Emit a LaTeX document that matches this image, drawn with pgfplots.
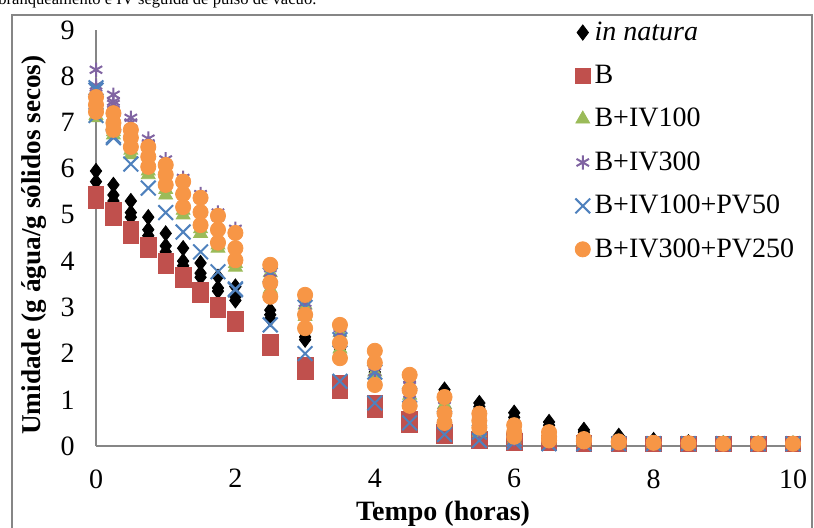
\documentclass[border=0pt]{standalone}
\usepackage{fontspec}
\setmainfont{Liberation Serif}
\usepackage{pgfplots}
\pgfplotsset{compat=1.18}
\definecolor{cB}{RGB}{192,80,77}
\definecolor{cG}{RGB}{155,187,89}
\definecolor{cP}{RGB}{128,100,162}
\definecolor{cX}{RGB}{79,129,189}
\definecolor{cO}{RGB}{247,150,70}
\definecolor{axgray}{RGB}{134,134,134}
\begin{document}
\begin{tikzpicture}
\useasboundingbox (0pt,0pt) rectangle (407pt,-263.5pt);
\node[anchor=base west, inner sep=0pt, font=\fontsize{8.3}{10}\selectfont] at (-1pt,-2pt) {branqueamento e IV seguida de pulso de vácuo.};
\draw[axgray, line width=0.6pt] (6pt,-275pt) -- (6pt,-7.5pt) -- (406pt,-7.5pt) -- (406pt,-275pt);
\begin{axis}[
  at={(48pt,-223pt)}, anchor=south west, scale only axis,
  width=348.5pt, height=208pt,
  xmin=0, xmax=10, ymin=0, ymax=9,
  axis x line*=bottom, axis y line*=left,
  axis line style={axgray, line width=0.8pt, -},
  xtick={0,2,...,10}, ytick={0,1,...,9},
  major tick length=0pt,
  /pgf/number format/assume math mode=true,
  tick label style={font=\fontsize{14}{16}\selectfont, inner sep=0pt},
  yticklabel style={anchor=east, xshift=-10.5pt},
  xticklabel style={anchor=north, yshift=-11.5pt},
  clip=false,
  legend cell align=left,
  legend image code/.code={\draw[mark repeat=2,mark phase=2,#1] plot coordinates {(0pt,0pt)(4pt,0pt)(8pt,0pt)};},
  legend style={at={(axis cs:6.78,9.36)}, anchor=north west, draw=none, fill=none,
    font=\fontsize{14}{16}\selectfont, row sep=6.9pt},
]
\addplot[only marks, mark=diamond*, mark size=3.8pt, black] table {
t u
0 5.95
0 5.72
0 5.55
0.25 5.65
0.25 5.43
0.25 5.3
0.5 5.3
0.5 5.05
0.5 4.95
0.75 4.95
0.75 4.68
0.75 4.55
1 4.6
1 4.33
1 4.2
1.25 4.28
1.25 4.0
1.25 3.9
1.5 3.96
1.5 3.74
1.5 3.65
1.75 3.66
1.75 3.42
1.75 3.35
2 3.45
2 3.23
2 3.15
2.5 2.94
2.5 2.84
2.5 2.75
3 2.45
3 2.36
3 2.3
3.5 2.1
3.5 2.05
3.5 2.0
4 1.75
4 1.7
4 1.6
4.5 1.5
4.5 1.45
4.5 1.4
5 1.22
5 1.15
5 1.1
5.5 0.93
5.5 0.85
5.5 0.8
6 0.72
6 0.62
6 0.55
6.5 0.52
6.5 0.45
6.5 0.38
7 0.35
7 0.3
7 0.25
7.5 0.22
7.5 0.18
8 0.13
8 0.1
8.5 0.08
8.5 0.07
9 0.06
9.5 0.05
10 0.05
};
\addlegendentry{\textit{in natura}}
\addplot[only marks, mark=square*, mark size=3.9pt, cB] table {
t u
0 5.45
0 5.38
0 5.3
0.25 5.1
0.25 5.02
0.25 4.95
0.5 4.7
0.5 4.63
0.5 4.55
0.75 4.35
0.75 4.3
0.75 4.25
1 4.0
1 3.96
1 3.9
1.25 3.7
1.25 3.66
1.25 3.6
1.5 3.38
1.5 3.33
1.5 3.28
1.75 3.05
1.75 3.0
1.75 2.95
2 2.75
2 2.7
2 2.65
2.5 2.25
2.5 2.2
2.5 2.12
3 1.75
3 1.7
3 1.62
3.5 1.35
3.5 1.28
3.5 1.2
4 0.92
4 0.85
4 0.78
4.5 0.58
4.5 0.52
4.5 0.47
5 0.3
5 0.25
5 0.22
5.5 0.15
5.5 0.12
6 0.1
6 0.08
6.5 0.07
7 0.06
7.5 0.05
8 0.05
8.5 0.05
9 0.05
9.5 0.05
10 0.05
};
\addlegendentry{B}
\addplot[only marks, mark=triangle*, mark size=4pt, cG] table {
t u
0 7.15
0 7.1
0.25 6.8
0.25 6.73
0.5 6.4
0.5 6.3
0.75 5.95
0.75 5.87
1 5.55
1 5.43
1.25 5.1
1.25 5.0
1.5 4.7
1.5 4.6
1.75 4.35
1.75 4.28
2 3.95
2 3.87
2.5 3.75
2.5 3.4
2.5 3.3
3 3.05
3 2.8
3 2.6
3.5 2.45
3.5 2.1
3.5 2.0
4 1.9
4 1.6
4 1.45
4.5 1.35
4.5 1.1
4.5 0.95
5 0.9
5 0.65
5 0.5
5.5 0.6
5.5 0.4
5.5 0.3
6 0.35
6 0.2
6 0.15
6.5 0.2
6.5 0.12
7 0.12
7 0.08
7.5 0.08
7.5 0.06
8 0.05
8.5 0.05
9 0.05
9.5 0.05
10 0.05
};
\addlegendentry{B+IV100}
\addplot[only marks, mark=asterisk, mark size=3.6pt, cP, mark options={line width=1pt}] table {
t u
0 8.14
0 7.8
0 7.75
0.25 7.6
0.25 7.45
0.25 7.4
0.5 7.1
0.5 7.0
0.75 6.65
0.75 6.55
1 6.2
1 6.1
1.25 5.8
1.25 5.7
1.5 5.45
1.5 5.35
1.75 5.05
1.75 4.95
2 4.7
2 4.6
2.5 3.85
2.5 3.75
2.5 3.5
3 3.2
3 3.1
3 2.9
3.5 2.55
3.5 2.45
3.5 2.2
4 1.95
4 1.8
4 1.6
4.5 1.45
4.5 1.3
4.5 1.0
5 1.0
5 0.75
5 0.55
5.5 0.65
5.5 0.45
5.5 0.3
6 0.4
6 0.25
6 0.15
6.5 0.25
6.5 0.15
7 0.15
7 0.1
7.5 0.1
7.5 0.07
8 0.05
8.5 0.05
9 0.05
9.5 0.05
10 0.05
};
\addlegendentry{B+IV300}
\addplot[only marks, mark=x, mark size=5.2pt, cX, mark options={line width=1pt}] table {
t u
0 7.75
0 7.7
0 7.15
0.25 6.7
0.25 6.67
0.5 6.1
0.75 5.58
1 5.05
1.25 4.63
1.5 4.2
1.75 3.77
2 3.4
2 3.38
2.5 3.7
2.5 2.62
3 3.0
3 2.0
3.5 2.3
3.5 1.4
4 1.6
4 0.93
4.5 1.1
4.5 0.5
5 0.6
5 0.25
5.5 0.3
5.5 0.12
6 0.15
6 0.08
6.5 0.05
7 0.05
7.5 0.05
8 0.05
8.5 0.05
9 0.05
9.5 0.05
10 0.05
};
\addlegendentry{B+IV100+PV50}
\addplot[only marks, mark=*, mark size=3.8pt, cO] table {
t u
0 7.55
0 7.38
0 7.23
0.25 7.2
0.25 6.99
0.25 6.84
0.5 6.84
0.5 6.67
0.5 6.47
0.75 6.47
0.75 6.26
0.75 6.04
1 6.08
1 5.87
1 5.65
1.25 5.72
1.25 5.45
1.25 5.17
1.5 5.37
1.5 5.06
1.5 4.78
1.75 4.98
1.75 4.68
1.75 4.4
2 4.61
2 4.28
2 4.02
2.5 3.92
2.5 3.53
2.5 3.23
3 3.27
3 2.84
3 2.55
3.5 2.62
3.5 2.23
3.5 1.9
4 2.06
4 1.8
4 1.32
4.5 1.54
4.5 1.21
4.5 0.87
5 1.06
5 0.71
5 0.5
5.5 0.7
5.5 0.55
5.5 0.4
6 0.45
6 0.3
6 0.2
6.5 0.3
6.5 0.2
6.5 0.12
7 0.15
7 0.1
7.5 0.1
7.5 0.08
8 0.07
8.5 0.06
9 0.05
9.5 0.05
10 0.05
};
\addlegendentry{B+IV300+PV250}
\end{axis}
\node[anchor=base, font=\fontsize{14}{16}\selectfont\bfseries] at (221.5pt,-260pt) {Tempo (horas)};
\node[anchor=base, rotate=90, font=\fontsize{13.6}{16}\selectfont\bfseries] at (20pt,-122.5pt) {Umidade (g água/g sólidos secos)};
\end{tikzpicture}
\end{document}
